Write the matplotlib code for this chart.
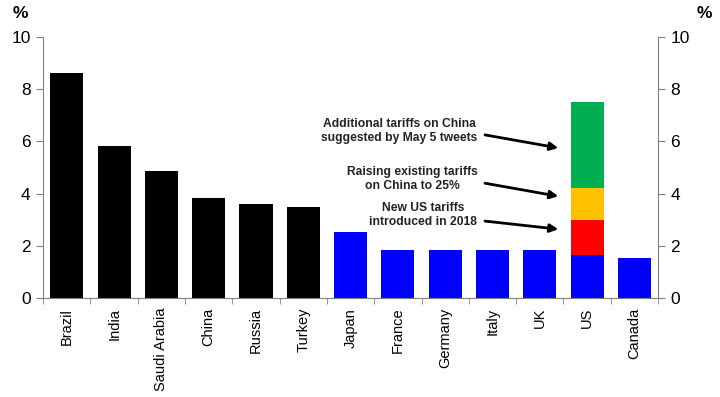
import numpy as np
import matplotlib
matplotlib.use("Agg")
import matplotlib.pyplot as plt

countries = ['Brazil', 'India', 'Saudi Arabia', 'China', 'Russia', 'Turkey',
             'Japan', 'France', 'Germany', 'Italy', 'UK', 'US', 'Canada']
base = [8.62, 5.82, 4.87, 3.83, 3.6, 3.49, 2.53, 1.84, 1.84, 1.84, 1.84, 1.65, 1.53]
base_colors = ['black'] * 6 + ['#0000ff'] * 7

# US stacked tariff effects
us_new_2018 = 1.35
us_raise_25 = 1.2
us_may5 = 3.3

notes = ['Additional tariffs on China\nsuggested by May 5 tweets',
         'Raising existing tariffs\non China to 25%',
         'New US tariffs\nintroduced in 2018']

plt.rcParams['font.family'] = ['Liberation Sans', 'DejaVu Sans']
fig = plt.figure(figsize=(7.2, 3.97), dpi=100)
ax = fig.add_axes([0.06, 0.249, 0.854, 0.658])

x = np.arange(len(countries))
w = 0.7
ax.bar(x, base, width=w, color=base_colors)
us = countries.index('US')
ax.bar(us, us_new_2018, width=w, bottom=base[us], color='#ff0000')
ax.bar(us, us_raise_25, width=w, bottom=base[us] + us_new_2018, color='#ffc000')
ax.bar(us, us_may5, width=w, bottom=base[us] + us_new_2018 + us_raise_25, color='#00b050')

ax.set_xlim(-0.5, 12.5)
ax.set_ylim(0, 10)
ax.set_yticks(range(0, 11, 2))
ax.set_xticks(x)
ax.set_xticklabels(countries, rotation=90, fontsize=10.5)
ax.set_xticks(np.arange(-0.5, 13, 1), minor=True)
ax.tick_params(axis='x', which='major', length=0, pad=7)
ax.tick_params(axis='x', which='minor', length=4, color='#808080')
ax.tick_params(axis='y', labelsize=12.5, length=5, color='#808080', pad=4)

for s in ['top', 'right']:
    ax.spines[s].set_visible(False)
for s in ['left', 'bottom']:
    ax.spines[s].set_color('#808080')

ax2 = ax.twinx()
ax2.set_ylim(0, 10)
ax2.set_yticks(range(0, 11, 2))
ax2.tick_params(axis='y', labelsize=12.5, length=5, color='#808080', pad=4)
for s in ['top', 'left', 'bottom']:
    ax2.spines[s].set_visible(False)
ax2.spines['right'].set_color('#808080')

fig.text(0.017, 0.965, '%', fontsize=12.5, fontweight='bold', va='center')
fig.text(0.968, 0.965, '%', fontsize=12.5, fontweight='bold', va='center')

text_y = [6.4, 4.56, 3.18]
start_y = [6.25, 4.4, 2.95]
tip_y = [5.75, 3.9, 2.64]
for note, ty, sy, ey in zip(notes, text_y, start_y, tip_y):
    ax.text(8.68, ty, note, ha='right', va='center', multialignment='center',
            fontsize=8.7, fontweight='bold', color='#222222', linespacing=1.15)
    ax.annotate('', xy=(10.39, ey), xytext=(8.84, sy),
                arrowprops=dict(arrowstyle='-|>', color='black', lw=2,
                                mutation_scale=12, shrinkA=0, shrinkB=0))

fig.savefig('out.png', dpi=100)
